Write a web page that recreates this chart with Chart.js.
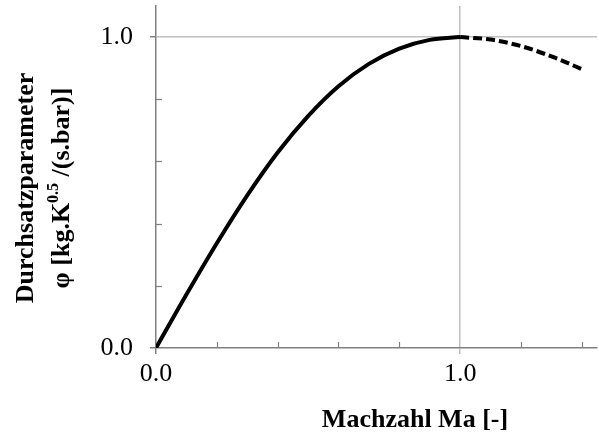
<!DOCTYPE html>
<html>
<head>
<meta charset="utf-8">
<script src="https://cdn.jsdelivr.net/npm/chart.js@4"></script>
<style>
  html, body { margin: 0; padding: 0; background: #fff; }
  #wrap { width: 599px; height: 436px; }
</style>
</head>
<body>
<div id="wrap"><canvas id="myChart"></canvas></div>
<script>
// Unterschall-Ast (durchgezogen)
var maSub = [0, 0.1, 0.2, 0.3, 0.4, 0.5, 0.6, 0.7, 0.8, 0.9, 1.0];
var phiSub = [0, 0.172, 0.337, 0.491, 0.629, 0.746, 0.842, 0.914, 0.963, 0.991, 1.0];
// Ueberschall-Ast (gestrichelt)
var maSup = [1.0, 1.1, 1.2, 1.3, 1.4];
var phiSup = [1.0, 0.992, 0.971, 0.938, 0.897];

function pts(xs, ys) {
  return xs.map(function (x, i) { return { x: x, y: ys[i] }; });
}

var axisGray = '#808080';
var gridGray = '#c0c0c0';
var serif = '"Liberation Serif", "Times New Roman", serif';

// kleine Teilstriche nach innen + Achsentitel
var extras = {
  id: 'extras',
  afterDraw: function (chart) {
    var c = chart.ctx, xs = chart.scales.x, ys = chart.scales.y;
    var area = chart.chartArea;
    c.save();
    c.strokeStyle = axisGray;
    c.lineWidth = 1.2;
    for (var v = 0.2; v < 1.45; v += 0.2) {
      if (Math.abs(v - 1) < 1e-6) continue;
      var px = Math.round(xs.getPixelForValue(v)) + 0.5;
      c.beginPath(); c.moveTo(px, area.bottom); c.lineTo(px, area.bottom - 6); c.stroke();
    }
    for (var w = 0.2; w < 0.99; w += 0.2) {
      var py = Math.round(ys.getPixelForValue(w)) + 0.5;
      c.beginPath(); c.moveTo(area.left, py); c.lineTo(area.left + 6, py); c.stroke();
    }

    c.fillStyle = '#000';
    c.font = 'bold 26px ' + serif;
    c.textAlign = 'center';
    c.textBaseline = 'alphabetic';
    c.fillText('Machzahl Ma [-]', 415, 427);

    // y-Titel, zweizeilig, um 90 Grad gedreht
    c.translate(0, 188);
    c.rotate(-Math.PI / 2);
    c.fillText('Durchsatzparameter', 0, 33);

    var big = 'bold 26px ' + serif, small = 'bold 16px ' + serif;
    var a = '\u03c6 [kg.K', b = '0.5', d = ' /(s.bar)]';
    c.font = big; var wa = c.measureText(a).width, wd = c.measureText(d).width;
    c.font = small; var wb = c.measureText(b).width;
    var x0 = -(wa + wb + wd) / 2;
    c.textAlign = 'left';
    c.font = big; c.fillText(a, x0, 69);
    c.font = small; c.fillText(b, x0 + wa, 58);
    c.font = big; c.fillText(d, x0 + wa + wb, 69);
    c.restore();
  }
};

var ctx = document.getElementById('myChart');
new Chart(ctx, {
  type: 'line',
  data: {
    datasets: [
      {
        data: pts(maSub, phiSub),
        borderColor: '#000',
        borderWidth: 4,
        pointRadius: 0,
        cubicInterpolationMode: 'monotone',
        fill: false
      },
      {
        data: pts(maSup, phiSup),
        borderColor: '#000',
        borderWidth: 4,
        borderDash: [9, 4],
        pointRadius: 0,
        cubicInterpolationMode: 'monotone',
        fill: false
      }
    ]
  },
  options: {
    responsive: true,
    maintainAspectRatio: false,
    animation: false,
    layout: { padding: { top: 6, right: 2, left: 0, bottom: 0 } },
    plugins: { legend: { display: false }, tooltip: { enabled: false } },
    scales: {
      x: {
        type: 'linear',
        min: 0,
        max: 1.45,
        afterFit: function (s) { s.height = 88; s.paddingLeft = 0; s.paddingRight = 0; },
        border: { color: axisGray, width: 1.5 },
        grid: {
          color: function (c) { return c.tick && c.tick.value === 1 ? gridGray : 'rgba(0,0,0,0)'; },
          tickColor: function (c) { return c.tick && c.tick.value === 1 ? gridGray : axisGray; },
          lineWidth: 1.5,
          tickLength: 6
        },
        ticks: {
          stepSize: 1,
          includeBounds: false,
          padding: 5,
          color: '#000',
          font: { family: serif, size: 26 },
          maxRotation: 0,
          callback: function (v) { return v.toFixed(1); }
        }
      },
      y: {
        type: 'linear',
        min: 0,
        max: 1.1,
        afterFit: function (s) { s.width = 156; s.paddingTop = 0; s.paddingBottom = 0; },
        border: { color: axisGray, width: 1.5 },
        grid: {
          color: function (c) { return c.tick && c.tick.value === 1 ? gridGray : 'rgba(0,0,0,0)'; },
          tickColor: axisGray,
          lineWidth: 1.5,
          tickLength: 6
        },
        ticks: {
          stepSize: 1,
          includeBounds: false,
          padding: 17,
          color: '#000',
          font: { family: serif, size: 26 },
          callback: function (v) { return v.toFixed(1); }
        }
      }
    }
  },
  plugins: [extras]
});
</script>
</body>
</html>
